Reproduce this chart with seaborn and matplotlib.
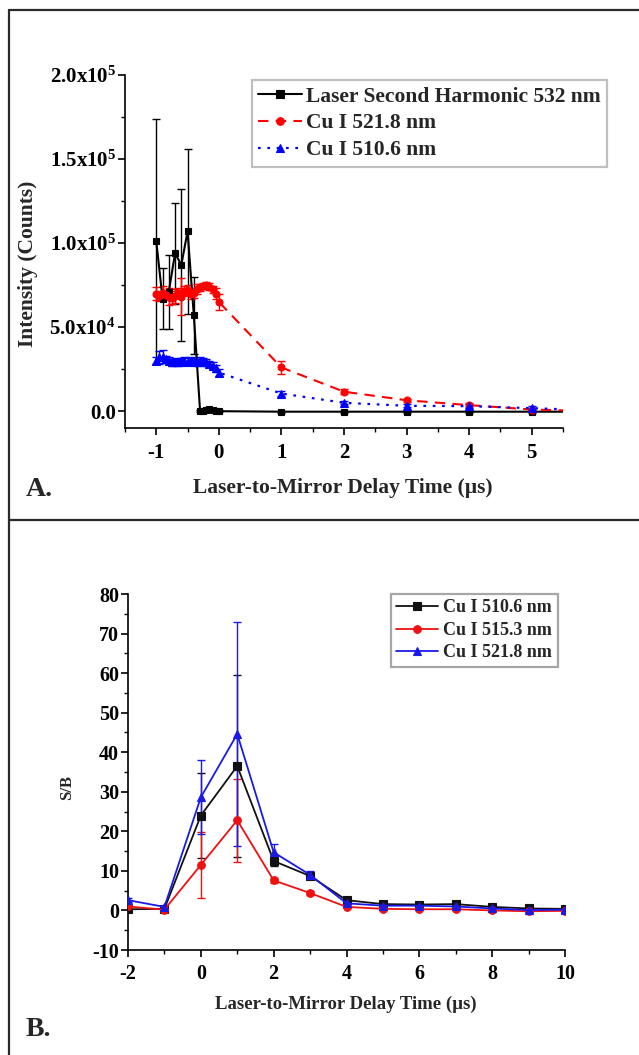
import numpy as np
import pandas as pd
import seaborn as sns
import matplotlib
matplotlib.use("Agg")
import matplotlib.pyplot as plt
from matplotlib.lines import Line2D
from matplotlib.ticker import FixedLocator, MultipleLocator

# ---------------- data: panel A ----------------
laser_x = [-1.0, -0.9, -0.8, -0.7, -0.6, -0.5, -0.4, -0.3, -0.25, -0.2, -0.15, -0.1, -0.05, 0.0,
           1, 2, 3, 4, 5, 6]
laser_y = [101000, 67000, 71000, 94000, 87000, 107000, 57000, 0, 200, 600, 1200, 900, 300, 0,
           -300, -300, -300, -300, -300, -300]
laser_err = [73000, 18000, 22000, 30000, 45000, 49000, 23000, 500, 500, 500, 500, 500, 500, 500,
             500, 500, 500, 500, 500, 0]

cu_x = [-1.00, -0.95, -0.90, -0.85, -0.80, -0.75, -0.70, -0.65, -0.60, -0.55, -0.50,
        -0.45, -0.40, -0.35, -0.30, -0.25, -0.20, -0.15, -0.10, -0.05, 0.00,
        1, 2, 3, 4, 5, 6]
cu5218_y = [70000, 68500, 70500, 69000, 68000, 67500, 68500, 70500, 68000, 71500, 72000,
            70000, 70500, 72500, 73500, 74500, 75000, 74000, 72500, 70000, 65000,
            26000, 11600, 6500, 3600, 1000, 0]
cu5218_err = [4000, 3000, 4000, 3000, 5000, 4000, 4000, 3000, 11000, 3000, 3000,
              3000, 3000, 3000, 2000, 2000, 2000, 2000, 2000, 3000, 5000,
              4000, 1500, 1000, 1000, 1000, 0]
cu5106_y = [30000, 32000, 32500, 31000, 30000, 29000, 29500, 29000, 29500, 30000, 29500,
            30000, 29500, 29000, 30000, 29500, 29000, 28000, 27000, 25500, 23000,
            10500, 5000, 3200, 3000, 1800, 500]
cu5106_err = [2000, 4000, 4000, 2000, 2000, 2000, 2000, 2000, 2000, 2000, 2000,
              2000, 2000, 2000, 2000, 2000, 2000, 2000, 2000, 2000, 2000,
              1500, 1000, 1000, 1000, 1000, 0]

top_labels = ["Laser Second Harmonic 532 nm", "Cu I 521.8 nm", "Cu I 510.6 nm"]
top_yticks = [0, 50000, 100000, 150000, 200000]
top_yticklabels = ["0.0", "5.0x10$^4$", "1.0x10$^5$", "1.5x10$^5$", "2.0x10$^5$"]
top_xticks = [-1, 0, 1, 2, 3, 4, 5]
top_xticklabels = ["-1", "0", "1", "2", "3", "4", "5"]

# ---------------- data: panel B ----------------
sb_x = [-2, -1, 0, 1, 2, 3, 4, 5, 6, 7, 8, 9, 10]
sb5106_y = [0.3, 0.4, 24.0, 36.5, 12.5, 8.7, 2.6, 1.6, 1.5, 1.6, 0.9, 0.5, 0.4]
sb5106_err = [0.3, 0.3, 10.8, 23.0, 1.2, 0.8, 0.4, 0.3, 0.3, 0.3, 0.3, 0.3, 0.3]
sb5153_y = [1.0, 0.2, 11.5, 22.8, 7.6, 4.4, 0.9, 0.4, 0.3, 0.3, 0.0, -0.2, -0.1]
sb5153_err = [0.3, 0.3, 8.4, 10.5, 0.6, 0.5, 0.3, 0.3, 0.3, 0.3, 0.3, 0.3, 0.3]
sb5218_y = [2.6, 0.9, 28.6, 44.6, 14.7, 9.0, 1.8, 1.2, 1.2, 1.0, 0.5, 0.1, 0.2]
sb5218_err = [0.5, 0.3, 9.4, 28.2, 2.2, 1.0, 0.4, 0.3, 0.3, 0.3, 0.3, 0.3, 0.3]
bot_labels = ["Cu I 510.6 nm", "Cu I 515.3 nm", "Cu I 521.8 nm"]
bot_xticks = [-2, 0, 2, 4, 6, 8, 10]
bot_yticks = [-10, 0, 10, 20, 30, 40, 50, 60, 70, 80]

# ---------------- style ----------------
sns.set_style("ticks")
plt.rcParams["font.family"] = ["Liberation Serif", "DejaVu Serif"]
plt.rcParams["font.weight"] = "bold"
plt.rcParams["mathtext.default"] = "regular"
plt.rcParams["axes.unicode_minus"] = False
plt.rcParams["axes.linewidth"] = 1.2

W, H = 639, 1055
fig = plt.figure(figsize=(W / 100, H / 100), dpi=100)
fig.patch.set_facecolor("white")

def fx(px):
    return px / W

def fy(py):
    return 1 - py / H

BLACK, RED, BLUE = "#000000", "#ff0000", "#0000ff"

def style_axes(ax, tick_fs):
    sns.despine(ax=ax)
    ax.spines["left"].set_color("black")
    ax.spines["bottom"].set_color("black")
    ax.tick_params(which="major", direction="out", length=5, width=1.2, colors="black",
                   labelsize=tick_fs, pad=1.5)
    ax.tick_params(which="minor", direction="out", length=3, width=1.0, colors="black")
    for lab in ax.get_xticklabels() + ax.get_yticklabels():
        lab.set_fontweight("bold")

# ---------------- panel A ----------------
axA = fig.add_axes([fx(125), fy(428), fx(563 - 125), (428 - 75) / H])
series_top = [
    (laser_x, laser_y, laser_err, BLACK, "s", "-", top_labels[0], 4.8, 1.5),
    (cu_x, cu5218_y, cu5218_err, RED, "o", (0, (5, 3.5)), top_labels[1], 5.0, 1.5),
    (cu_x, cu5106_y, cu5106_err, BLUE, "^", (0, (1.2, 3)), top_labels[2], 5.2, 1.6),
]
for xs, ys, es, col, mk, ls, lab, ms, lw in series_top:
    axA.errorbar(xs, ys, yerr=es, fmt="none", ecolor=col, elinewidth=1.0,
                 capsize=3, capthick=1.0, zorder=2)
    sns.lineplot(x=xs, y=ys, ax=axA, color=col, marker=mk, markersize=ms,
                 markeredgecolor=col, markeredgewidth=0.8, linestyle=ls, linewidth=lw,
                 label=lab, sort=False, estimator=None, zorder=3)

axA.set_xlim(-1.5, 5.5)
axA.set_ylim(-10000, 200000)
axA.xaxis.set_major_locator(FixedLocator(top_xticks))
axA.set_xticklabels(top_xticklabels)
axA.xaxis.set_minor_locator(MultipleLocator(0.5))
axA.yaxis.set_major_locator(FixedLocator(top_yticks))
axA.set_yticklabels(top_yticklabels)
axA.yaxis.set_minor_locator(FixedLocator([25000, 75000, 125000, 175000]))
axA.set_xlabel("")
axA.set_ylabel("")
style_axes(axA, 15)
axA.tick_params(axis="x", which="major", pad=6)

legA = axA.legend(loc="upper left", bbox_to_anchor=(fx(252), fy(80)),
                  bbox_transform=fig.transFigure, borderaxespad=0, frameon=True,
                  fancybox=False, shadow=False,
                  prop={"family": ["Liberation Serif"], "weight": "bold", "size": 15.5},
                  handlelength=2.0, handletextpad=0.2, labelspacing=0.32, borderpad=0.3,
                  numpoints=1, markerscale=1.1)
legA.get_frame().set_edgecolor("#b0b0b0")
legA.get_frame().set_linewidth(1.6)

# ---------------- panel B ----------------
axB = fig.add_axes([fx(128), fy(950), fx(565 - 128), (950 - 594) / H])
series_bot = [
    (sb5106_y, sb5106_err, "#111111", "s", bot_labels[0]),
    (sb5153_y, sb5153_err, "#ee1111", "o", bot_labels[1]),
    (sb5218_y, sb5218_err, "#1a1ae6", "^", bot_labels[2]),
]
for ys, es, col, mk, lab in series_bot:
    axB.errorbar(sb_x, ys, yerr=es, fmt="none", ecolor=col, elinewidth=1.0,
                 capsize=3, capthick=1.0, zorder=2)
    sns.lineplot(x=sb_x, y=ys, ax=axB, color=col, marker=mk, markersize=5.5,
                 markeredgecolor=col, markeredgewidth=0.8, linestyle="-", linewidth=1.3,
                 label=lab, sort=False, estimator=None, zorder=3)

axB.set_xlim(-2, 10)
axB.set_ylim(-10, 80)
axB.xaxis.set_major_locator(FixedLocator(bot_xticks))
axB.xaxis.set_minor_locator(MultipleLocator(1))
axB.yaxis.set_major_locator(FixedLocator(bot_yticks))
axB.yaxis.set_minor_locator(MultipleLocator(5))
axB.set_xlabel("")
axB.set_ylabel("")
style_axes(axB, 14.5)
axB.tick_params(axis="x", which="major", pad=5)

legB = axB.legend(loc="upper left", bbox_to_anchor=(fx(391), fy(594)),
                  bbox_transform=fig.transFigure, borderaxespad=0, frameon=True,
                  fancybox=False, shadow=False,
                  prop={"family": ["Liberation Serif"], "weight": "bold", "size": 13},
                  handlelength=2.3, handletextpad=0.3, labelspacing=0.3, borderpad=0.3,
                  numpoints=1)
legB.get_frame().set_edgecolor("#909090")
legB.get_frame().set_linewidth(1.6)

# ---------------- labels ----------------
fig.text(fx(343), fy(488), "Laser-to-Mirror Delay Time (\u00b5s)", ha="center", va="center",
         fontsize=15.5, fontweight="bold")
fig.text(fx(28), fy(264), "Intensity (Counts)", ha="center", va="center", rotation=90,
         fontsize=15.5, fontweight="bold")
fig.text(fx(26), fy(490), "A.", ha="left", va="center", fontsize=20, fontweight="bold")

fig.text(fx(346), fy(1004), "Laser-to-Mirror Delay Time (\u00b5s)", ha="center", va="center",
         fontsize=13.5, fontweight="bold")
fig.text(fx(67), fy(788), "S/B", ha="center", va="center", rotation=90,
         fontsize=12, fontweight="bold")
fig.text(fx(26), fy(1030), "B.", ha="left", va="center", fontsize=20, fontweight="bold")

# ---------------- panel borders ----------------
bc = "#2a2a2a"
fig.add_artist(Line2D([fx(9), fx(9)], [fy(10), 0], transform=fig.transFigure, color=bc, lw=1.6))
fig.add_artist(Line2D([fx(9), 1], [fy(10), fy(10)], transform=fig.transFigure, color=bc, lw=1.6))
fig.add_artist(Line2D([fx(9), 1], [fy(520), fy(520)], transform=fig.transFigure, color=bc, lw=1.6))

fig.savefig("out.png", dpi=100, facecolor="white")
